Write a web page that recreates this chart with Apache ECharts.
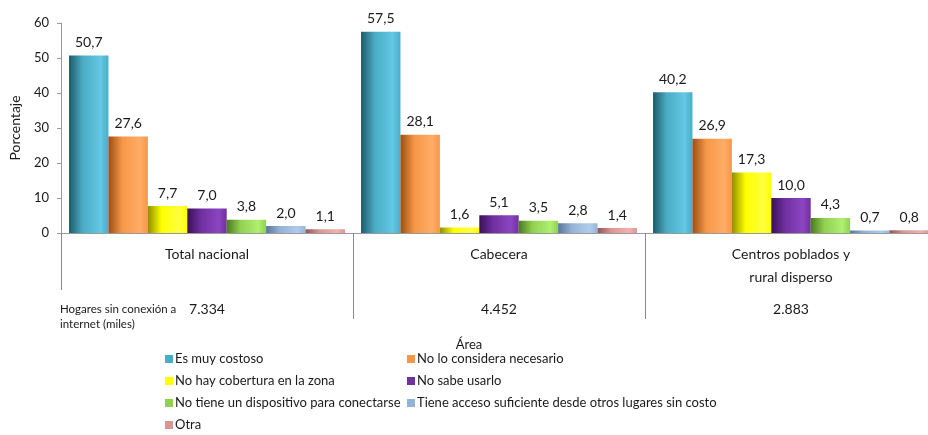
<!DOCTYPE html>
<html>
<head>
<meta charset="utf-8">
<script src="https://cdn.jsdelivr.net/npm/echarts@6/dist/echarts.min.js"></script>
<style>
  html, body { margin: 0; padding: 0; background: #fff; }
  #chart { width: 928px; height: 435px; }
</style>
</head>
<body>
<div id="chart"></div>
<script>
// categorías del eje x
var areas = ['Total nacional', 'Cabecera', 'Centros poblados y\nrural disperso'];
// hogares sin conexión a internet (miles)
var hogares = ['7.334', '4.452', '2.883'];

// razones (series)
var razones = [
  'Es muy costoso',
  'No lo considera necesario',
  'No hay cobertura en la zona',
  'No sabe usarlo',
  'No tiene un dispositivo para conectarse',
  'Tiene acceso suficiente desde otros lugares sin costo',
  'Otra'
];
var muyCostoso = [50.7, 57.5, 40.2];
var noNecesario = [27.6, 28.1, 26.9];
var noCobertura = [7.7, 1.6, 17.3];
var noSabeUsarlo = [7.0, 5.1, 10.0];
var sinDispositivo = [3.8, 3.5, 4.3];
var accesoOtrosLugares = [2.0, 2.8, 0.7];
var otra = [1.1, 1.4, 0.8];

var yTicks = [0, 10, 20, 30, 40, 50, 60];

var valores = [muyCostoso, noNecesario, noCobertura, noSabeUsarlo, sinDispositivo, accesoOtrosLugares, otra];
// base, oscuro, claro
var colores = [
  ['#4bacc6', '#1f5a6b', '#62c8e3'],
  ['#f79646', '#9a4f14', '#ffad66'],
  ['#ffff00', '#8f8f00', '#ffff40'],
  ['#7030a0', '#3a1057', '#8a45c0'],
  ['#92d050', '#4a7a20', '#aef070'],
  ['#95b3d7', '#5a7598', '#b0cbec'],
  ['#d99694', '#8f5654', '#f2b2b0']
];

var font = 'Lato, "Liberation Sans", sans-serif';

function gradiente(c) {
  return new echarts.graphic.LinearGradient(0, 0, 1, 0, [
    { offset: 0, color: c[1] },
    { offset: 0.35, color: c[0] },
    { offset: 0.8, color: c[2] },
    { offset: 1, color: c[0] }
  ]);
}

var series = razones.map(function (name, i) {
  return {
    name: name,
    type: 'bar',
    xAxisIndex: 0,
    barGap: 0,
    barCategoryGap: '5.5%',
    data: valores[i],
    itemStyle: { color: gradiente(colores[i]) },
    label: {
      show: true,
      position: 'top',
      distance: 6,
      color: '#1a1a1a',
      fontFamily: font,
      fontSize: 14,
      formatter: function (p) { return p.value.toFixed(1).replace('.', ','); }
    }
  };
});

var leyenda = function (idx, left) {
  return {
    orient: 'vertical',
    left: left,
    top: 352,
    padding: 0,
    itemWidth: 8,
    itemHeight: 8,
    itemGap: 8,
    icon: 'rect',
    data: idx.map(function (i) { return { name: razones[i], itemStyle: { color: colores[i][0] } }; }),
    textStyle: { fontFamily: font, fontSize: 13, color: '#1a1a1a', lineHeight: 14, padding: [0, 0, 0, -3] },
    selectedMode: false
  };
};

var option = {
  animation: false,
  backgroundColor: '#fff',
  title: {
    text: 'Área',
    left: 464,
    top: 333,
    textAlign: 'center',
    textStyle: { fontFamily: font, fontSize: 13, fontWeight: 'normal', color: '#1a1a1a' }
  },
  grid: { left: 61, width: 876, top: 23, bottom: 202, outerBoundsMode: 'none', containLabel: false },
  legend: [leyenda([0, 2, 4, 6], 165), leyenda([1, 3, 5], 407)],
  xAxis: [
    {
      type: 'category',
      data: areas,
      axisLine: { lineStyle: { color: '#9a9a9a' } },
      axisTick: { show: true, interval: 0, length: 57, lineStyle: { color: '#8a8a8a' } },
      axisLabel: {
        interval: 0,
        margin: 10,
        color: '#1a1a1a',
        fontFamily: font,
        fontSize: 14,
        lineHeight: 23
      }
    },
    {
      type: 'category',
      data: hogares,
      position: 'bottom',
      axisLine: { show: false },
      axisTick: {
        show: true,
        length: 86,
        interval: function (i) { return i > 0; },
        lineStyle: { color: '#8a8a8a' }
      },
      axisLabel: {
        interval: 0,
        margin: 69,
        color: '#1a1a1a',
        fontFamily: font,
        fontSize: 14
      }
    }
  ],
  yAxis: {
    type: 'value',
    min: yTicks[0],
    max: yTicks[yTicks.length - 1],
    interval: 10,
    name: 'Porcentaje',
    nameLocation: 'middle',
    nameGap: 39,
    nameTextStyle: { fontFamily: font, fontSize: 14, color: '#1a1a1a' },
    axisLine: { show: true, lineStyle: { color: '#9a9a9a' } },
    axisTick: { show: true, length: 4, lineStyle: { color: '#9a9a9a' } },
    axisLabel: { color: '#1a1a1a', fontFamily: font, fontSize: 13, margin: 12 },
    splitLine: { show: false }
  },
  graphic: [
    {
      type: 'text',
      left: 60,
      top: 302,
      style: {
        text: 'Hogares sin conexión a\ninternet (miles)',
        fontFamily: font,
        fontSize: 11.5,
        lineHeight: 15,
        align: 'center',
        fill: '#1a1a1a'
      }
    }
  ],
  series: series
};

var chart = echarts.init(document.getElementById('chart'), null, { renderer: 'canvas' });
chart.setOption(option);
</script>
</body>
</html>
